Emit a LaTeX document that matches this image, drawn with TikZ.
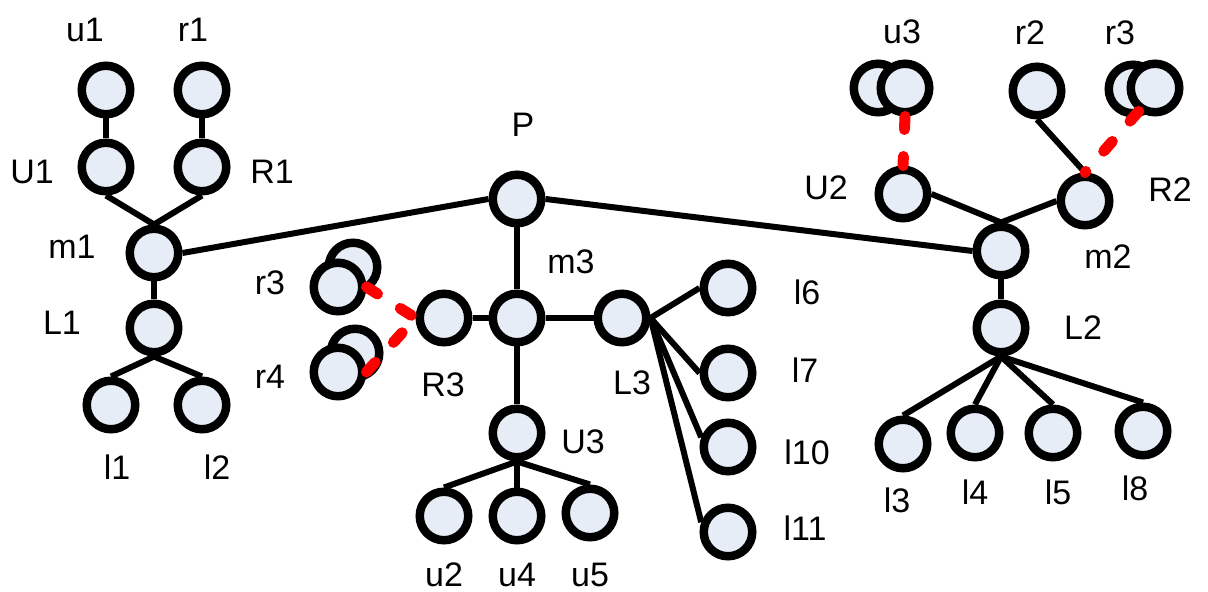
\documentclass[tikz,border=0pt]{standalone}
\usepackage{fontspec}
\setmainfont{Liberation Sans}
\usetikzlibrary{backgrounds}
\definecolor{vfill}{RGB}{231,237,247}

\begin{document}
\begin{tikzpicture}[x=0.5pt,y=-0.5pt,
  vert/.style={circle,draw,line width=4.25pt,fill=vfill,minimum size=24.25pt,inner sep=0pt},
  lbl/.style={inner sep=0pt,font=\fontsize{17}{20}\selectfont},
  link/.style={line width=3pt},
  tie/.style={draw=red,line width=5.5pt,line cap=round,dash pattern=on 6.5pt off 13.5pt},]
\useasboundingbox (0,0) rectangle (1208,592);
\node[vert](u1) at (106,90){};
\node[vert](r1) at (202,90){};
\node[vert](U1) at (106,167){};
\node[vert](R1) at (202,167){};
\node[vert](m1) at (154,253){};
\node[vert](L1) at (154,328){};
\node[vert](l1) at (111,405){};
\node[vert](l2) at (202,405){};
\node[vert](P) at (517,199){};
\node[vert](m3) at (517,318){};
\node[vert](R3) at (444,318){};
\node[vert](L3) at (622,318){};
\node[vert](U3) at (517,433){};
\node[vert](u2) at (444,516){};
\node[vert](u4) at (517,516){};
\node[vert](u5) at (590,513){};
\node[vert](l6) at (728,288){};
\node[vert](l7) at (728,373){};
\node[vert](l10) at (728,447){};
\node[vert](l11) at (728,532){};
\node[vert](r3lb) at (353,267){};
\node[vert](r3l) at (338,287){};
\node[vert](r4b) at (355,353){};
\node[vert](r4) at (338,372){};
\node[vert](m2) at (1001,251){};
\node[vert](U2) at (903,194){};
\node[vert](R2) at (1085,201){};
\node[vert](u3b) at (878,88){};
\node[vert](u3) at (905,88){};
\node[vert](r2) at (1037,91){};
\node[vert](r3rb) at (1133,89){};
\node[vert](r3r) at (1155,88){};
\node[vert](L2) at (1001,328){};
\node[vert](l3) at (903,444){};
\node[vert](l4) at (975,433){};
\node[vert](l5) at (1053,433){};
\node[vert](l8) at (1143,431){};

\node[lbl](tu1) at (85,30){u1};
\node[lbl](tr1) at (193,30){r1};
\node[lbl](tU1) at (32,172){U1};
\node[lbl](tR1) at (272,172){R1};
\node[lbl](tm1) at (72,247){m1};
\node[lbl](tL1) at (62,323){L1};
\node[lbl](tl1) at (117,467){l1};
\node[lbl](tl2) at (217,467){l2};
\node[lbl](tr3l) at (270,283){r3};
\node[lbl](tr4) at (270,377){r4};
\node[lbl](tP) at (523,125){P};
\node[lbl](tm3) at (571,262){m3};
\node[lbl](tR3) at (443,385){R3};
\node[lbl](tL3) at (632,383){L3};
\node[lbl](tU3) at (583,442){U3};
\node[lbl](tu2) at (444,575){u2};
\node[lbl](tu4) at (517,575){u4};
\node[lbl](tu5) at (590,575){u5};
\node[lbl](tl6) at (807,292){l6};
\node[lbl](tl7) at (805,370){l7};
\node[lbl](tl10) at (807,452){l10};
\node[lbl](tl11) at (805,528){l11};
\node[lbl](tu3) at (902,32){u3};
\node[lbl](tr2) at (1030,33){r2};
\node[lbl](tr3r) at (1120,33){r3};
\node[lbl](tU2) at (826,188){U2};
\node[lbl](tR2) at (1170,190){R2};
\node[lbl](tm2) at (1108,257){m2};
\node[lbl](tL2) at (1083,328){L2};
\node[lbl](tl3) at (897,500){l3};
\node[lbl](tl4) at (975,492){l4};
\node[lbl](tl5) at (1058,492){l5};
\node[lbl](tl8) at (1135,488){l8};

\begin{scope}[on background layer]
\draw[link] (u1.south) -- (U1.north);
\draw[link] (r1.south) -- (R1.north);
\draw[link] (U1.south) -- (m1.north);
\draw[link] (R1.south) -- (m1.north);
\draw[link] (m1.south) -- (L1.north);
\draw[link] (L1.south) -- (l1.north);
\draw[link] (L1.south) -- (l2.north);
\draw[link] (m1.east) -- (P.west);
\draw[link] (P.east) -- (m2.west);
\draw[link] (P.south) -- (m3.north);
\draw[link] (m3.west) -- (R3.east);
\draw[link] (m3.east) -- (L3.west);
\draw[link] (m3.south) -- (U3.north);
\draw[link] (U3.south) -- (u2.north);
\draw[link] (U3.south) -- (u4.north);
\draw[link] (U3.south) -- (u5.north);
\draw[link] (L3.east) -- (l6.west);
\draw[link] (L3.east) -- (l7.west);
\draw[link] (L3.east) -- (l10.160);
\draw[link] (L3.east) -- (l11.160);
\draw[link] (U2.east) -- (m2.north);
\draw[link] (R2.west) -- (m2.north);
\draw[link] (r2.south) -- (R2.north);
\draw[link] (m2.south) -- (L2.north);
\draw[link] (L2.south) -- (l3.north);
\draw[link] (L2.south) -- (l4.north);
\draw[link] (L2.south) -- (l5.north);
\draw[link] (L2.south) -- (l8.north);
\end{scope}

\draw[tie] (u3.south) -- (U2.north);
\draw[tie] (r3r.235) -- (R2.north);
\draw[tie] (r3l.east) -- (R3.west);
\draw[tie] (r4.east) -- (R3.west);
\end{tikzpicture}
\end{document}
